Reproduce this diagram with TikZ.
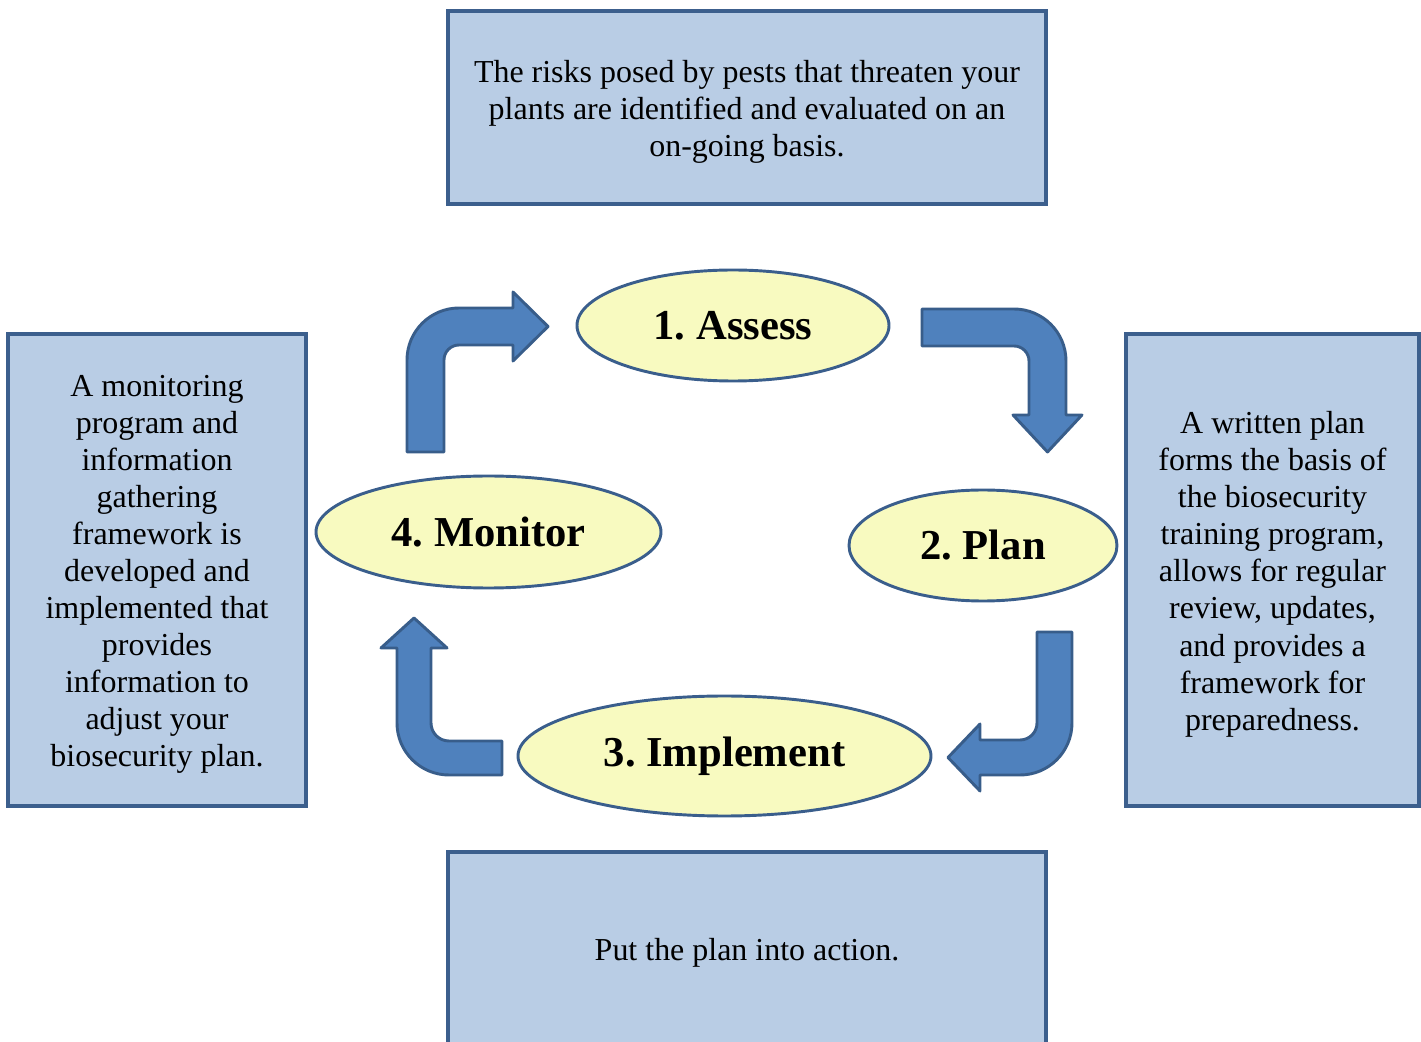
\documentclass[tikz,border=0pt]{standalone}
\usepackage{fontspec}
\setmainfont{Liberation Serif}
\usepackage{tikz}
\usetikzlibrary{shapes.geometric}
\definecolor{boxfill}{HTML}{B9CDE5}
\definecolor{boxline}{HTML}{3C5F8D}
\definecolor{ovalfill}{HTML}{F8FAC0}
\definecolor{ovalline}{HTML}{3A5E8C}
\definecolor{arrowfill}{HTML}{4F81BD}
\definecolor{arrowline}{HTML}{385D8A}
\frenchspacing
\newcommand{\px}{0.3754pt}
\newcommand{\bentarrow}[4]{
	(0,#1) -- (0,52) .. controls (0,23.3) and (23.3,0) .. (52,0) --
	(#2,0) -- (#2,-16) -- (#3,#4/2) -- (#2,#4+16) -- (#2,#4) --
	(52,#4) .. controls ({52-0.5523*(52-#4)},#4) and (#4,{52-0.5523*(52-#4)}) .. (#4,52) --
	(#4,#1) -- cycle}

\begin{document}
\begin{tikzpicture}[x=\px,y=-\px,font=\fontsize{12}{13.9}\selectfont,
box/.style={draw=boxline,line width=1.3pt,fill=boxfill,inner sep=0pt},
note/.style={align=center,inner sep=0pt,yshift=-1.6pt},
stage/.style={ellipse,draw=ovalline,line width=1.1pt,fill=ovalfill,inner sep=0pt,font=\fontsize{16}{19}\selectfont\bfseries},
turn/.style={draw=arrowline,line width=1.1pt,fill=arrowfill,line join=round}]
% The frame
\useasboundingbox (0,0) rectangle (1421,1042);
\clip (0,0) rectangle (1421,1042);

% The text boxes
\node[box,minimum width=598*\px,minimum height=193*\px] (assessbox) at (747,107.5) {};
\node[box,minimum width=293*\px,minimum height=472*\px] (planbox) at (1272.5,570) {};
\node[box,minimum width=598*\px,minimum height=194*\px] (implementbox) at (747,949) {};
\node[box,minimum width=298*\px,minimum height=472*\px] (monitorbox) at (157,570) {};

% The texts in the boxes
\node[note] (assessnote) at (assessbox.center)
  {The risks posed by pests that threaten your\\plants are identified and evaluated on an\\on-going basis.};
\node[note] (plannote) at (planbox.center)
  {A written plan\\forms the basis of\\the biosecurity\\training program,\\allows for regular\\review, updates,\\and provides a\\framework for\\preparedness.};
\node[note] (implementnote) at (implementbox.center) {Put the plan into action.};
\node[note] (monitornote) at (monitorbox.center)
  {A monitoring\\program and\\information\\gathering\\framework is\\developed and\\implemented that\\provides\\information to\\adjust your\\biosecurity plan.};

% The four stages
\node[stage,minimum width=312*\px,minimum height=111*\px] (assess) at (733,325.5) {\raisebox{-1.2pt}{1. Assess}};
\node[stage,minimum width=268*\px,minimum height=111*\px] (plan) at (983,545.5) {\raisebox{-1.2pt}{2. Plan}};
\node[stage,minimum width=413*\px,minimum height=120*\px] (implement) at (724.5,756) {\raisebox{-1.2pt}{3. Implement}};
\node[stage,minimum width=345*\px,minimum height=112*\px] (monitor) at (488.5,532) {\raisebox{-1.2pt}{4. Monitor}};

% The bent arrows
\draw[turn,shift={(407,308)}] \bentarrow{144}{106}{141}{37};
\draw[turn,shift={(1066,309)},rotate=-90] \bentarrow{144}{106}{143}{37};
\draw[turn,shift={(1072,775)},rotate=180] \bentarrow{143}{92}{124}{35};
\draw[turn,shift={(397,775)},rotate=90] \bentarrow{105}{127}{157}{34};

\end{tikzpicture}
\end{document}
